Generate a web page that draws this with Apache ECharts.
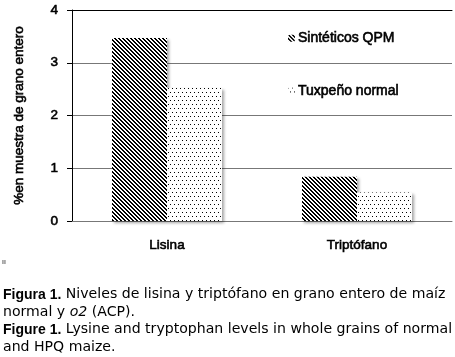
<!DOCTYPE html>
<html>
<head>
<meta charset="utf-8">
<script src="https://cdn.jsdelivr.net/npm/echarts@6/dist/echarts.min.js"></script>
<style>
  html, body { margin: 0; padding: 0; background: #fff; }
  #chart { width: 455px; height: 357px; }
</style>
</head>
<body>
<div id="chart"></div>
<script>
const categories = ['Lisina', 'Triptófano'];
const seriesNames = ['Sintéticos QPM', 'Tuxpeño normal'];
const qpmValues = [3.47, 0.84];
const tuxValues = [2.52, 0.54];
const yTicks = [0, 1, 2, 3, 4];

const labelFont = '"Liberation Sans", Arial, sans-serif';
const capFont = '"DejaVu Sans", sans-serif';

// fill patterns drawn on small canvases
function makePattern(w, h, draw) {
  const c = document.createElement('canvas');
  c.width = w;
  c.height = h;
  const ctx = c.getContext('2d');
  ctx.fillStyle = '#fff';
  ctx.fillRect(0, 0, w, h);
  ctx.fillStyle = '#000';
  draw(ctx);
  return { image: c, repeat: 'repeat' };
}

const hatch = makePattern(4, 4, function (ctx) {
  for (let y = 0; y < 4; y++) {
    for (let x = 0; x < 4; x++) {
      if ((x - y + 8) % 4 < 2) ctx.fillRect(x, y, 1, 1);
    }
  }
});

const dots = makePattern(4, 8, function (ctx) {
  ctx.fillRect(0, 0, 1, 1);
  ctx.fillRect(2, 4, 1, 1);
});

const chart = echarts.init(document.getElementById('chart'));

// slightly heavier text, like the scanned labels
const txt = {
  fontFamily: labelFont,
  fontSize: 13.5,
  color: '#000',
  textBorderColor: '#000',
  textBorderWidth: 0.6
};

const barStyle = {
  shadowColor: 'rgba(0,0,0,0.35)',
  shadowBlur: 3,
  shadowOffsetX: 2,
  shadowOffsetY: 2
};

chart.setOption({
  animation: false,
  grid: { left: 72, right: 3, top: 10, bottom: 136 },
  legend: {
    orient: 'vertical',
    left: 283,
    top: 26,
    itemWidth: 7,
    itemHeight: 7,
    itemGap: 38,
    data: seriesNames,
    textStyle: Object.assign({}, txt, { fontSize: 14, padding: [0, 0, 0, -2] })
  },
  xAxis: [{
    type: 'category',
    data: categories,
    axisLine: { lineStyle: { color: '#777', width: 1 } },
    axisTick: { show: false },
    axisLabel: Object.assign({ margin: 17 }, txt)
  }, {
    type: 'category',
    data: categories,
    position: 'top',
    axisLine: { lineStyle: { color: '#000', width: 1 } },
    axisTick: { show: false },
    axisLabel: { show: false }
  }],
  yAxis: {
    type: 'value',
    min: yTicks[0],
    max: yTicks[yTicks.length - 1],
    interval: 1,
    name: '%en muestra de grano entero',
    nameLocation: 'middle',
    nameGap: 46,
    nameTextStyle: Object.assign({}, txt, { fontSize: 13.5 }),
    axisLine: { show: true, lineStyle: { color: '#000', width: 1 } },
    axisTick: { show: true, length: 5, lineStyle: { color: '#000' } },
    axisLabel: Object.assign({ margin: 14 }, txt),
    splitLine: { lineStyle: { color: '#777', width: 1 } }
  },
  series: [{
    name: seriesNames[0],
    type: 'bar',
    data: qpmValues,
    barWidth: 55,
    barGap: '0%',
    itemStyle: Object.assign({ color: hatch }, barStyle)
  }, {
    name: seriesNames[1],
    type: 'bar',
    data: tuxValues,
    barWidth: 55,
    barGap: '0%',
    itemStyle: Object.assign({ color: dots }, barStyle)
  }],
  graphic: [{
    type: 'text',
    left: 2,
    top: 259,
    style: { text: 'ıı', fontSize: 7, fill: '#000' }
  }, {
    type: 'text',
    left: 3,
    top: 286,
    style: {
      text: '{b|Figura 1.} Niveles de lisina y triptófano en grano entero de maíz\nnormal y {i|o2} (ACP).\n{b|Figure 1.} Lysine and tryptophan levels in whole grains of normal\nand HPQ maize.',
      fontFamily: capFont,
      fontSize: 14.1,
      lineHeight: 17.5,
      fill: '#000',
      rich: {
        b: { fontFamily: labelFont, fontSize: 14, fontWeight: 'bold', lineHeight: 17.5 },
        i: { fontFamily: capFont, fontSize: 14.1, fontStyle: 'italic', lineHeight: 17.5 }
      }
    }
  }]
});
</script>
</body>
</html>
